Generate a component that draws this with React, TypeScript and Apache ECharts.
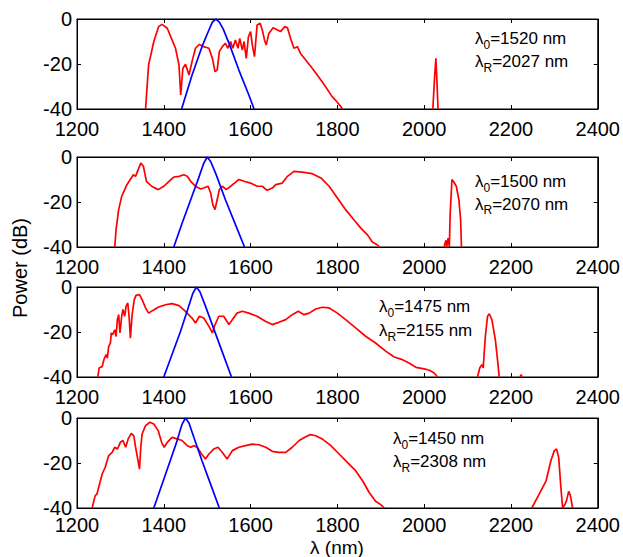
import React, { useEffect, useRef } from "react";
import * as echarts from "echarts";

// ---------- data (wavelength nm, power dB) ----------
const xTicks = { min: 1200, max: 2400, step: 200 };
const yTicks = { min: -40, max: 0, step: 20 };

const p1Red: number[][] = [
  [1358, -40], [1365, -20.4], [1377, -10], [1388, -3.4], [1396, -2.4], [1408, -4.1], [1419, -9.3], [1427, -13],
  [1435, -20.4], [1439, -33.8], [1444, -21.9], [1450, -20.1], [1458, -24.9], [1465, -19], [1473, -13], [1482, -11.3],
  [1492, -12.3], [1504, -13], [1512, -17.5], [1518, -23.4], [1523, -22.7], [1528, -14.5], [1535, -12.3], [1542, -10.8],
  [1548, -13], [1554, -10], [1559, -13], [1565, -9.3], [1571, -13], [1575, -8.6], [1581, -13.8], [1585, -10],
  [1590, -17.5], [1595, -7.9], [1600, -5.6], [1604, -11.6], [1609, -16.7], [1615, -2.7], [1622, -1.9], [1627, -4.9],
  [1632, -9.3], [1636, -11.6], [1642, -6.4], [1652, -3.9], [1662, -4.9], [1669, -5.6], [1679, -3.4], [1685, -3.9],
  [1692, -8.6], [1700, -13], [1708, -12.3], [1715, -15.3], [1727, -18.2], [1742, -21.9], [1765, -27.9], [1788, -34.5],
  [1800, -37], [1812, -40],
];
const p1Raman: number[][] = [[2020, -40], [2024, -26], [2027, -17.5], [2029, -26], [2032, -40]];
const p1Pump: number[][] = [
  [1441, -40], [1465, -25], [1488, -12.3], [1504, -4.9], [1512, -1.4], [1520, 0], [1528, -1.4], [1537, -4.5],
  [1552, -11.6], [1573, -22.7], [1596, -33.8], [1608, -40],
];

const p2Red: number[][] = [
  [1287, -40], [1290, -32.3], [1296, -23.4], [1303, -17.5], [1315, -12.3], [1325, -9.3], [1330, -7.9], [1335, -8.6],
  [1341, -5.6], [1347, -2.7], [1353, -4.1], [1360, -10.8], [1372, -13], [1387, -14.5], [1400, -13], [1412, -10.8],
  [1423, -8.9], [1435, -8.6], [1446, -7.9], [1454, -8.6], [1462, -10.8], [1473, -13], [1485, -14.2], [1492, -13.8],
  [1502, -13], [1508, -16], [1513, -21.2], [1518, -23.4], [1523, -19], [1528, -14.5], [1535, -13], [1544, -14.5],
  [1554, -13], [1565, -11.3], [1573, -10], [1585, -10.8], [1600, -11.6], [1615, -13], [1627, -13], [1638, -14.8],
  [1650, -13.8], [1658, -12.3], [1673, -11.6], [1685, -8.6], [1700, -6.4], [1719, -6.7], [1742, -7.4], [1762, -9.3],
  [1781, -13], [1800, -18.2], [1819, -23.4], [1838, -27.9], [1854, -31.6], [1869, -34.5], [1881, -37.9], [1892, -39],
  [1897, -40],
];
const p2Raman: number[][] = [
  [2046, -40], [2050, -37], [2052, -40], [2055, -36], [2058, -40], [2060, -25], [2064, -10], [2068, -11],
  [2074, -13], [2080, -19], [2084, -28], [2086, -40],
];
const p2Pump: number[][] = [
  [1423, -40], [1443, -29], [1462, -19], [1480, -9.5], [1492, -2.8], [1500, 0], [1508, -2], [1520, -7.5],
  [1542, -19], [1564, -29.5], [1586, -40],
];

const p3Red: number[][] = [
  [1248, -40], [1251, -36], [1258, -35.3], [1262, -32.3], [1267, -30], [1270, -31.6], [1273, -26.4], [1277, -24.9],
  [1279, -20.4], [1282, -21.2], [1287, -19], [1290, -22], [1293, -14.5], [1296, -12.3], [1299, -20.4], [1303, -13],
  [1306, -10], [1310, -13], [1313, -8.6], [1317, -7.1], [1320, -13], [1323, -22.7], [1327, -12.3], [1332, -5.6],
  [1336, -3.7], [1344, -3.4], [1350, -5.6], [1358, -9.3], [1365, -11.6], [1375, -10.4], [1388, -8.9], [1404, -7.9],
  [1419, -7.4], [1435, -8.3], [1450, -10.8], [1465, -13.8], [1473, -16], [1482, -13], [1492, -13.8], [1504, -17.5],
  [1512, -20.4], [1518, -16.7], [1527, -13], [1538, -13], [1550, -16.7], [1558, -14.5], [1569, -11.6], [1581, -10.8],
  [1596, -11.6], [1615, -13], [1635, -15.3], [1650, -16.7], [1665, -15.7], [1681, -14.5], [1696, -12.3], [1710, -10.8],
  [1723, -12.3], [1735, -11.6], [1750, -9.8], [1765, -9], [1781, -9.3], [1800, -11.6], [1819, -14.5], [1842, -18.2],
  [1865, -21.9], [1888, -24.9], [1912, -28.6], [1931, -31.1], [1950, -32.3], [1965, -33.8], [1981, -35.7], [2000, -36.4],
  [2012, -37], [2023, -38.2], [2031, -40],
];
const p3Raman: number[][] = [
  [2123, -40], [2128, -36], [2133, -34.5], [2136, -36], [2141, -21.9], [2146, -13], [2150, -11.9], [2156, -14.5],
  [2164, -23.4], [2169, -32.3], [2173, -40],
];
const p3Blip: number[][] = [[2221, -40], [2223, -39], [2226, -40]];
const p3Pump: number[][] = [
  [1400, -40], [1419, -30], [1438, -20], [1455, -10], [1467, -2.8], [1475, 0], [1483, -2], [1496, -8.5],
  [1515, -18.5], [1536, -29.5], [1556, -40],
];

const p4Red: number[][] = [
  [1235, -40], [1238, -37.5], [1242, -34.5], [1246, -33.8], [1252, -29.3], [1258, -24.9], [1265, -21.9], [1273, -16.7],
  [1281, -15.3], [1287, -13], [1293, -13.8], [1300, -10.8], [1306, -10], [1312, -13], [1318, -9.3], [1325, -6.8],
  [1331, -7.9], [1335, -13], [1342, -20.4], [1344, -22.7], [1347, -13], [1350, -7.1], [1358, -3.4], [1368, -1.9],
  [1377, -2.7], [1387, -5.6], [1395, -10.8], [1401, -13], [1408, -10.8], [1419, -8.6], [1431, -9.3], [1442, -10],
  [1454, -12.3], [1462, -13], [1469, -12.3], [1477, -13], [1487, -16], [1496, -18.2], [1504, -16], [1515, -13.8],
  [1525, -13], [1535, -15.3], [1546, -18.2], [1558, -14.5], [1573, -13], [1588, -12.3], [1604, -11.6], [1619, -11.9],
  [1635, -13], [1650, -14.8], [1665, -15.3], [1681, -15.3], [1696, -13], [1712, -10], [1727, -8.3], [1738, -7.4],
  [1750, -7.9], [1765, -9.3], [1785, -12.3], [1804, -16], [1823, -19.7], [1842, -23.4], [1858, -27.9], [1873, -33],
  [1888, -37], [1900, -38.5], [1908, -40],
];
const p4Raman: number[][] = [
  [2248, -40], [2265, -33.8], [2281, -27.9], [2292, -19], [2300, -14.5], [2305, -13.8], [2310, -17.5], [2315, -30.8],
  [2319, -40], [2325, -38.2], [2328, -36.7], [2333, -32.6], [2337, -34.5], [2342, -40],
];
const p4Pump: number[][] = [
  [1377, -40], [1395, -30], [1413, -20], [1430, -10.5], [1442, -2.8], [1450, 0], [1458, -2.2], [1470, -9],
  [1488, -19], [1508, -29.5], [1528, -40],
];

const lambda0 = ["1520", "1500", "1475", "1450"];
const lambdaR = ["2027", "2070", "2155", "2308"];
const redSets = [[p1Red, p1Raman], [p2Red, p2Raman], [p3Red, p3Raman, p3Blip], [p4Red, p4Raman]];
const blueSets = [p1Pump, p2Pump, p3Pump, p4Pump];

// ---------- layout ----------
const W = 623;
const H = 557;
const gridTops = [19, 157, 287, 418];
const gridH = 90;
const gridLeft = 77;
const gridW = 521;
const labelMargins = [10, 10, 10, 7];
const noteX = [475, 475, 379, 393];
const noteY = [[41, 64], [184, 206.5], [309, 333], [441, 464]];
const FONT = "'Liberation Sans', Arial, Helvetica, sans-serif";

export default function App() {
  const ref = useRef<HTMLDivElement>(null);
  useEffect(() => {
    if (!ref.current) return;
    const chart = echarts.init(ref.current, undefined, { renderer: "svg" });
    const grid: any[] = [];
    const xAxis: any[] = [];
    const yAxis: any[] = [];
    const series: any[] = [];
    const graphic: any[] = [];
    const tickStyle = { show: true, inside: true, length: 4, lineStyle: { color: "#000", width: 1 } };
    const fmt = (v: number) => String(v);
    gridTops.forEach((top, i) => {
      grid.push({
        left: gridLeft, top, width: gridW, height: gridH, show: true,
        borderColor: "#000", borderWidth: 1, backgroundColor: "transparent",
      });
      const xBase = {
        type: "value", gridIndex: i, min: xTicks.min, max: xTicks.max, interval: xTicks.step,
        axisLine: { show: true, onZero: false, lineStyle: { color: "#000", width: 1 } },
        axisTick: tickStyle, splitLine: { show: false },
      };
      xAxis.push({ ...xBase, position: "bottom",
        axisLabel: { show: true, color: "#000", fontSize: 20, fontFamily: FONT, margin: labelMargins[i], formatter: fmt } });
      xAxis.push({ ...xBase, position: "top", axisLabel: { show: false } });
      const yBase = {
        type: "value", gridIndex: i, min: yTicks.min, max: yTicks.max, interval: yTicks.step,
        axisLine: { show: true, onZero: false, lineStyle: { color: "#000", width: 1 } },
        axisTick: tickStyle, splitLine: { show: false },
      };
      yAxis.push({ ...yBase, position: "left",
        axisLabel: { show: true, color: "#000", fontSize: 20, fontFamily: FONT, margin: 5, formatter: fmt } });
      yAxis.push({ ...yBase, position: "right", axisLabel: { show: false } });

      const xi = i * 2;
      const yi = i * 2;
      redSets[i].forEach((d) => {
        series.push({
          type: "line", xAxisIndex: xi, yAxisIndex: yi, data: d, showSymbol: false,
          lineStyle: { color: "#ff0000", width: 1.7 }, itemStyle: { color: "#ff0000" },
        });
      });
      series.push({
        type: "line", xAxisIndex: xi, yAxisIndex: yi, data: blueSets[i], showSymbol: false,
        lineStyle: { color: "#0000ff", width: 1.7 }, itemStyle: { color: "#0000ff" },
      });

      const rich = {
        a: { fontSize: 17, fontFamily: FONT, color: "#000" },
        s: { fontSize: 12, fontFamily: FONT, color: "#000", padding: [12, 0, 0, 0] },
      };
      graphic.push({
        type: "text", left: noteX[i], top: noteY[i][0] - 11,
        style: { text: `{a|λ}{s|0}{a|=${lambda0[i]} nm}`, rich },
      });
      graphic.push({
        type: "text", left: noteX[i], top: noteY[i][1] - 11,
        style: { text: `{a|λ}{s|R}{a|=${lambdaR[i]} nm}`, rich },
      });
    });
    graphic.push({
      type: "text", x: 20, y: 268, rotation: Math.PI / 2,
      style: { text: "Power (dB)", fontSize: 20, fontFamily: FONT, fill: "#000", align: "center", verticalAlign: "middle" },
    });
    graphic.push({
      type: "text", x: 337, y: 547.5,
      style: { text: "λ (nm)", fontSize: 19, fontFamily: FONT, fill: "#000", align: "center", verticalAlign: "middle" },
    });

    chart.setOption({
      animation: false,
      backgroundColor: "#fff",
      grid, xAxis, yAxis, series, graphic,
    });
    return () => chart.dispose();
  }, []);
  return (
    <div
      ref={ref}
      style={{ position: "fixed", left: 0, top: 0, width: W, height: H, background: "#fff" }}
    />
  );
}
